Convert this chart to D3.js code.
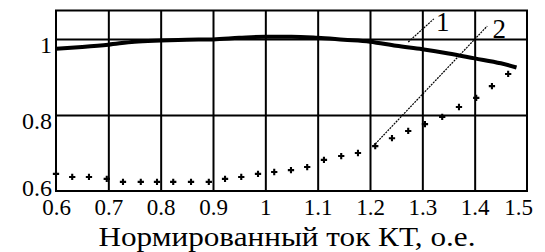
<!DOCTYPE html>
<html>
<head>
<meta charset="utf-8">
<script src="https://cdn.jsdelivr.net/npm/d3@7"></script>
<style>
  body { margin: 0; background: #fff; }
</style>
</head>
<body>
<div class="chart"></div>
<script>
//Chart parameters
var svgWidth = 545;
var svgHeight = 252;

var margin = { top: 10.5, right: 18, bottom: 61, left: 56 };

var width = svgWidth - margin.left - margin.right;
var height = svgHeight - margin.top - margin.bottom;

var serif = "'Liberation Serif', 'Times New Roman', Times, 'DejaVu Serif', serif";

// Data
var xTicks = [0.6, 0.7, 0.8, 0.9, 1, 1.1, 1.2, 1.3, 1.4, 1.5];
var yTicks = [0.6, 0.8, 1];

// thick curve
var curveX = [0.6, 0.65, 0.7, 0.75, 0.8, 0.85, 0.9, 0.95, 1.0, 1.05, 1.1, 1.15, 1.2, 1.25, 1.3, 1.35, 1.4, 1.45, 1.48];
var curveY = [0.974, 0.979, 0.985, 0.993, 0.996, 0.998, 0.999, 1.003, 1.006, 1.006, 1.003, 0.998, 0.993, 0.982, 0.973, 0.962, 0.949, 0.936, 0.925];

// "+" points
var dotX = [0.600, 0.631, 0.663, 0.697, 0.728, 0.762, 0.793, 0.824, 0.858, 0.892, 0.923, 0.954, 0.986, 1.017,
            1.049, 1.080, 1.112, 1.145, 1.177, 1.210, 1.242, 1.273, 1.305, 1.338, 1.370, 1.403, 1.433, 1.464];
var dotY = [0.645, 0.637, 0.637, 0.632, 0.624, 0.624, 0.624, 0.624, 0.624, 0.624, 0.632, 0.637, 0.645, 0.650,
            0.655, 0.663, 0.682, 0.692, 0.700, 0.718, 0.739, 0.758, 0.776, 0.795, 0.821, 0.845, 0.876, 0.908];

// thin marked lines 1 and 2
var lineNames = ["1", "2"];
var line1X = [1.273, 1.322];
var line1Y = [0.992, 1.053];
var line2X = [1.206, 1.424];
var line2Y = [0.718, 1.034];

var xTitle = "Нормированный ток КТ, о.е.";

var svg = d3.select(".chart")
  .append("svg")
  .attr("width", svgWidth)
  .attr("height", svgHeight);

var chartGroup = svg.append("g")
  .attr("transform", `translate(${margin.left}, ${margin.top})`);

//Creating our scales
var xScale = d3.scaleLinear().domain([0.6, 1.5]).range([0, width]);
var yScale = d3.scaleLinear().domain([0.6, 1.075]).range([height, 0]);

// grid
chartGroup.append("g")
  .call(d3.axisBottom(xScale).tickValues(xTicks.slice(1, -1)).tickSize(-height).tickFormat(""))
  .attr("transform", `translate(0, ${height})`)
  .call(g => g.select(".domain").remove())
  .selectAll("line").attr("stroke", "#000").attr("stroke-width", 2);

chartGroup.append("g")
  .call(d3.axisLeft(yScale).tickValues(yTicks.slice(1)).tickSize(-width).tickFormat(""))
  .call(g => g.select(".domain").remove())
  .selectAll("line").attr("stroke", "#000").attr("stroke-width", 2);

// plot border
chartGroup.append("rect")
  .attr("width", width)
  .attr("height", height)
  .attr("fill", "none")
  .attr("stroke", "#000")
  .attr("stroke-width", 2);

// tick labels
var xAxis = chartGroup.append("g")
  .attr("transform", `translate(0, ${height})`)
  .call(d3.axisBottom(xScale).tickValues(xTicks).tickSize(0).tickPadding(0).tickFormat(d3.format("")));
xAxis.select(".domain").remove();
xAxis.selectAll("text")
  .style("font-family", serif)
  .style("font-size", "23px")
  .attr("fill", "#000")
  .attr("y", 24)
  .attr("dy", 0)
  .attr("dx", (d, i) => i === xTicks.length - 1 ? -9 : 0);

var yAxis = chartGroup.append("g")
  .call(d3.axisLeft(yScale).tickValues(yTicks).tickSize(0).tickPadding(4).tickFormat(d3.format("")));
yAxis.select(".domain").remove();
yAxis.selectAll("text")
  .style("font-family", serif)
  .style("font-size", "24px")
  .attr("fill", "#000")
  .attr("dy", d => d === 0.6 ? "4px" : "13px");

// thick curve
var curveData = curveX.map((x, i) => ({ x: x, y: curveY[i] }));
chartGroup.append("path")
  .datum(curveData)
  .attr("fill", "none")
  .attr("stroke", "#000")
  .attr("stroke-width", 4)
  .attr("d", d3.line().x(d => xScale(d.x)).y(d => yScale(d.y)).curve(d3.curveMonotoneX));

// thin lines 1 and 2
var thinLines = [
  line1X.map((x, i) => ({ x: x, y: line1Y[i] })),
  line2X.map((x, i) => ({ x: x, y: line2Y[i] }))
];
chartGroup.selectAll(".thin").data(thinLines).enter().append("path")
  .attr("class", "thin")
  .attr("fill", "none")
  .attr("stroke", "#000")
  .attr("stroke-width", 1.2)
  .attr("stroke-dasharray", "2,1")
  .attr("d", d3.line().x(d => xScale(d.x)).y(d => yScale(d.y)));

chartGroup.selectAll(".lineName").data(thinLines).enter().append("text")
  .attr("class", "lineName")
  .attr("x", (d, i) => xScale(d[1].x) + (i === 0 ? 9 : 12))
  .attr("y", d => yScale(d[1].y) + 12)
  .style("font-family", serif)
  .style("font-size", "27px")
  .attr("text-anchor", "middle")
  .text((d, i) => lineNames[i]);

// "+" markers
var dotData = dotX.map((x, i) => ({ x: x, y: dotY[i] }));
chartGroup.selectAll(".dot").data(dotData).enter().append("path")
  .attr("class", "dot")
  .attr("transform", d => `translate(${xScale(d.x)}, ${yScale(d.y)})`)
  .attr("d", d3.symbol(d3.symbolCross, 22))
  .attr("fill", "#000");

//Appending x axis title
chartGroup.append("text")
  .attr("x", 231)
  .attr("y", height + 55)
  .attr("text-anchor", "middle")
  .attr("textLength", 377)
  .attr("lengthAdjust", "spacingAndGlyphs")
  .style("font-family", serif)
  .style("font-size", "27px")
  .text(xTitle);
</script>
</body>
</html>
